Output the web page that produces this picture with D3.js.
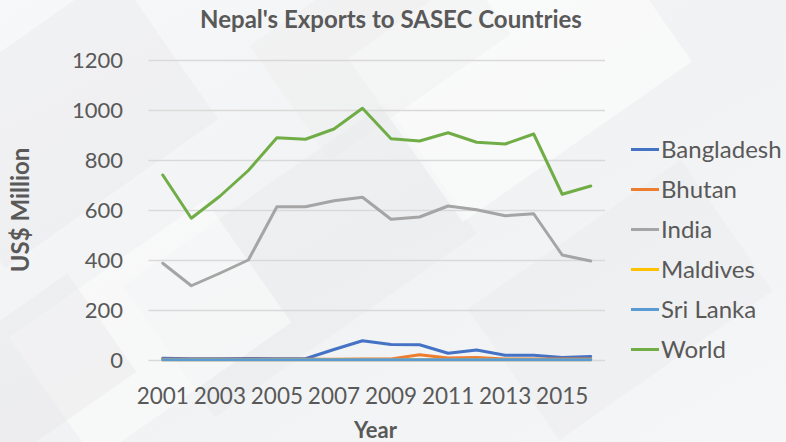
<!DOCTYPE html>
<html><head><meta charset="utf-8">
<script src="https://cdn.jsdelivr.net/npm/d3@7"></script>
<style>html,body{margin:0;padding:0;background:#f3f4f5;}svg{display:block;}</style>
</head><body>
<svg id="c" width="786" height="442"></svg>
<script>
const years = ["2001","2002","2003","2004","2005","2006","2007","2008","2009","2010","2011","2012","2013","2014","2015","2016"];
const tickYears = ["2001","2003","2005","2007","2009","2011","2013","2015"];
const yTicks = [0,200,400,600,800,1000,1200];
const bangladesh = [7,5,5,6,5,5,42,77,62,61,27,40,19,19,10,14];
const bhutan = [3,3,3,3,3,3,3,4,4,21,8,10,4,4,4,4];
const india = [387,297,347,400,613,613,637,651,563,572,616,601,577,585,420,396];
const maldives = [1,1,1,1,1,1,1,1,1,1,1,1,1,1,1,1];
const sriLanka = [1,1,1,1,1,1,1,1,1,1,1,1,1,1,1,1];
const world = [740,567,655,758,889,883,924,1007,885,876,909,871,864,904,663,696];
const seriesNames = ["Bangladesh","Bhutan","India","Maldives","Sri Lanka","World"];
const seriesColors = ["#4472C4","#ED7D31","#A5A5A5","#FFC000","#5B9BD5","#70AD47"];
const seriesData = [bangladesh,bhutan,india,maldives,sriLanka,world];

const svg = d3.select("#c");
const W=786,H=442;
// background
const defs = svg.append("defs");
const g0 = defs.append("linearGradient").attr("id","bg").attr("x1","0").attr("y1","0").attr("x2","1").attr("y2","1");
g0.append("stop").attr("offset","0").attr("stop-color","#f7f8f9");
g0.append("stop").attr("offset","0.5").attr("stop-color","#f1f2f3");
g0.append("stop").attr("offset","1").attr("stop-color","#f5f6f7");
svg.append("rect").attr("width",W).attr("height",H).attr("fill","url(#bg)");
const bgShapes = [[60,120,260,180,-35,"#e8e9eb",0.4],[300,260,320,160,-35,"#e6e7e9",0.35],[520,60,280,200,-35,"#ffffff",0.5],[150,330,240,150,-35,"#ffffff",0.45],[620,300,260,160,-35,"#e8e9eb",0.35],[380,40,220,140,-35,"#eaebec",0.35],[20,380,200,120,-35,"#e5e6e8",0.35]];
bgShapes.forEach(s=>{
  svg.append("rect").attr("x",-s[2]/2).attr("y",-s[3]/2).attr("width",s[2]).attr("height",s[3])
    .attr("fill",s[5]).attr("opacity",s[6])
    .attr("transform",`translate(${s[0]},${s[1]}) rotate(${s[4]})`);
});

const pL=148.5,pR=605,pT=60,pB=360;
const x = d3.scaleBand().domain(years).range([pL,pR]);
const y = d3.scaleLinear().domain([0,1200]).range([pB,pT]);
const font = "Lato, 'Open Sans', sans-serif";
const txt = "#595959";

// gridlines
const grid = svg.append("g").attr("transform",`translate(${pL},0)`)
  .call(d3.axisLeft(y).tickValues(yTicks).tickSize(-(pR-pL)).tickFormat(""));
grid.select(".domain").remove();
grid.selectAll("line").attr("stroke","#d9d9d9").attr("stroke-width",1.3);

// y tick labels
const ya = svg.append("g").attr("transform",`translate(123,0)`)
  .call(d3.axisLeft(y).tickValues(yTicks).tickSize(0).tickPadding(0).tickFormat(d3.format("d")));
ya.select(".domain").remove();
ya.selectAll("text").attr("font-family",font).attr("font-size",22).attr("fill",txt).attr("text-anchor","end").attr("dy","0.35em");

// x tick labels
const xa = svg.append("g").attr("transform",`translate(0,${pB})`).call(d3.axisBottom(x).tickValues(tickYears).tickSize(0).tickPadding(0));
xa.select(".domain").remove();
xa.selectAll("text").attr("font-family",font).attr("font-size",22.5).attr("fill",txt).attr("y",44).attr("dy",null);

// lines
const line = d3.line().x((d,i)=>x(years[i])+x.bandwidth()/2).y(d=>y(d));
seriesData.forEach((arr,k)=>{
  svg.append("path").datum(arr).attr("d",line).attr("fill","none")
    .attr("stroke",seriesColors[k]).attr("stroke-width",3).attr("stroke-linejoin","round").attr("stroke-linecap","round");
});

// title
svg.append("text").attr("x",391).attr("y",28).attr("text-anchor","middle")
  .attr("font-family",font).attr("font-weight","bold").attr("font-size",24).attr("fill",txt)
  .text("Nepal's Exports to SASEC Countries");
// axis titles
svg.append("text").attr("x",375.5).attr("y",438).attr("text-anchor","middle")
  .attr("font-family",font).attr("font-weight","bold").attr("font-size",22).attr("fill",txt).text("Year");
svg.append("text").attr("transform","translate(29,210) rotate(-90)").attr("text-anchor","middle")
  .attr("font-family",font).attr("font-weight","bold").attr("font-size",24).attr("fill",txt).text("US$ Million");

// legend
const lg = svg.append("g");
seriesNames.forEach((n,k)=>{
  const yy = 149.5 + k*40;
  lg.append("line").attr("x1",631).attr("x2",659).attr("y1",yy).attr("y2",yy).attr("stroke",seriesColors[k]).attr("stroke-width",3);
  lg.append("text").attr("x",661).attr("y",yy).attr("dy","0.35em").attr("font-family",font).attr("font-size",24).attr("fill",txt).text(n);
});
</script>
</body></html>
